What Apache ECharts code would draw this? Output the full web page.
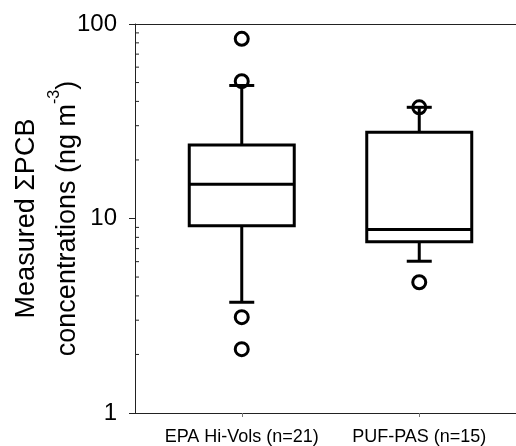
<!DOCTYPE html>
<html>
<head>
<meta charset="utf-8">
<script src="https://cdn.jsdelivr.net/npm/echarts@6/dist/echarts.min.js"></script>
<style>
  html, body { margin: 0; padding: 0; background: #fff; }
  #chartmain { width: 516px; height: 446px; }
</style>
</head>
<body>
<div id="chartmain"></div>
<script>
// groups on the x axis
var categories = ['EPA Hi-Vols (n=21)', 'PUF-PAS (n=15)'];
// box statistics: [lower whisker, Q1, median, Q3, upper whisker]
var epaBox = [3.71, 9.17, 15.0, 23.9, 48.3];
var pufBox = [6.03, 7.59, 8.78, 27.8, 37.3];
// outliers
var epaOutliers = [83.9, 50.8, 3.11, 2.13];
var pufOutliers = [37.3, 4.70];
// log axis minor tick values
var minorTickValues = [2, 3, 4, 5, 6, 7, 8, 9, 20, 30, 40, 50, 60, 70, 80, 90];

var font = 'Liberation Sans, Arial, Helvetica, sans-serif';

window.onload = function () {
    var boxData = [epaBox, pufBox].map(function (b, i) {
        return [i].concat(b);
    });
    var outlierData = [];
    epaOutliers.forEach(function (v) { outlierData.push([0, v]); });
    pufOutliers.forEach(function (v) { outlierData.push([1, v]); });

    var boxW = 105;   // box width in px
    var capW = 25;    // whisker cap width in px
    var lineStyle = { stroke: '#000', lineWidth: 3, fill: null };

    function renderBox(params, api) {
        var i = api.value(0);
        var pLo = api.coord([i, api.value(1)]);
        var pQ1 = api.coord([i, api.value(2)]);
        var pMed = api.coord([i, api.value(3)]);
        var pQ3 = api.coord([i, api.value(4)]);
        var pHi = api.coord([i, api.value(5)]);
        var x = pQ1[0];
        return {
            type: 'group',
            children: [
                { type: 'line', shape: { x1: x, y1: pQ3[1], x2: x, y2: pHi[1] }, style: lineStyle },
                { type: 'line', shape: { x1: x - capW / 2, y1: pHi[1], x2: x + capW / 2, y2: pHi[1] }, style: lineStyle },
                { type: 'line', shape: { x1: x, y1: pQ1[1], x2: x, y2: pLo[1] }, style: lineStyle },
                { type: 'line', shape: { x1: x - capW / 2, y1: pLo[1], x2: x + capW / 2, y2: pLo[1] }, style: lineStyle },
                { type: 'rect', shape: { x: x - boxW / 2, y: pQ3[1], width: boxW, height: pQ1[1] - pQ3[1] }, style: lineStyle },
                { type: 'line', shape: { x1: x - boxW / 2, y1: pMed[1], x2: x + boxW / 2, y2: pMed[1] }, style: lineStyle }
            ]
        };
    }

    function renderMinorTick(params, api) {
        var p = api.coord([0, api.value(0)]);
        return {
            type: 'line',
            shape: { x1: p[0], y1: p[1], x2: p[0] + 4, y2: p[1] },
            style: { stroke: '#222', lineWidth: 1 }
        };
    }

    var option = {
        animation: false,
        backgroundColor: '#fff',
        grid: [
            { left: 135, right: 0, top: 24, bottom: 33, outerBoundsMode: 'none', containLabel: false },
            { left: 153, right: 8, top: 24, bottom: 33, outerBoundsMode: 'none', containLabel: false }
        ],
        xAxis: [
            {
                gridIndex: 0, type: 'value', min: 0, max: 1, position: 'bottom',
                axisLine: { show: true, lineStyle: { color: '#222', width: 1 } },
                axisTick: { show: false }, axisLabel: { show: false }, splitLine: { show: false }
            },
            {
                gridIndex: 0, type: 'value', min: 0, max: 1, position: 'top',
                axisLine: { show: true, lineStyle: { color: '#222', width: 1 } },
                axisTick: { show: false }, axisLabel: { show: false }, splitLine: { show: false }
            },
            {
                gridIndex: 1, type: 'category', data: categories, position: 'bottom',
                axisLine: { show: false },
                axisTick: { show: true, alignWithLabel: true, length: 4, lineStyle: { color: '#777' } },
                axisLabel: { color: '#000', fontSize: 18, fontFamily: font, margin: 15, interval: 0, hideOverlap: false },
                splitLine: { show: false }
            }
        ],
        yAxis: [
            {
                gridIndex: 0, type: 'log', logBase: 10, min: 1, max: 100,
                axisLine: { show: true, lineStyle: { color: '#222', width: 1 } },
                axisTick: { show: true, length: 6, lineStyle: { color: '#222' } },
                axisLabel: { color: '#000', fontSize: 24, fontFamily: font, margin: 18 },
                splitLine: { show: false },
                name: 'Measured \u03A3PCB\nconcentrations (ng m{sup|-3})',
                nameLocation: 'middle',
                nameGap: 47,
                nameMoveOverlap: false,
                nameTextStyle: {
                    color: '#000', fontSize: 27, fontFamily: font, lineHeight: 41,
                    rich: {
                        sup: { color: '#000', fontSize: 16, fontFamily: font, lineHeight: 16, verticalAlign: 'top' }
                    }
                }
            },
            {
                gridIndex: 1, type: 'log', logBase: 10, min: 1, max: 100, show: false
            }
        ],
        series: [
            {
                type: 'custom', xAxisIndex: 0, yAxisIndex: 0,
                renderItem: renderMinorTick,
                data: minorTickValues.map(function (v) { return [v]; }),
                encode: { y: 0 }, silent: true
            },
            {
                type: 'custom', xAxisIndex: 2, yAxisIndex: 1,
                renderItem: renderBox,
                data: boxData,
                encode: { x: 0, y: [1, 2, 3, 4, 5] }
            },
            {
                type: 'scatter', xAxisIndex: 2, yAxisIndex: 1,
                symbol: 'circle', symbolSize: 13,
                itemStyle: { color: 'rgba(0,0,0,0)', borderColor: '#000', borderWidth: 3, opacity: 1 },
                data: outlierData, z: 3
            }
        ]
    };

    var myChart = echarts.init(document.getElementById('chartmain'));
    myChart.setOption(option);
};
</script>
</body>
</html>
